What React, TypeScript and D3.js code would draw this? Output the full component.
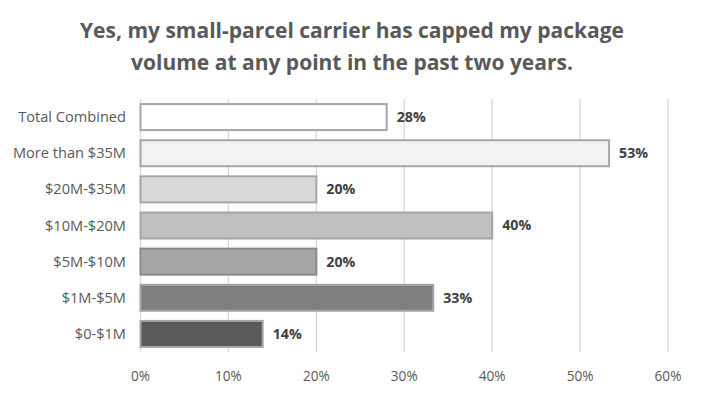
import React from 'react'
import * as d3 from 'd3'

// data
const categories = ['Total Combined', 'More than $35M', '$20M-$35M', '$10M-$20M', '$5M-$10M', '$1M-$5M', '$0-$1M']
const values = [28, 53.3, 20, 40, 20, 33.3, 13.9]
const valueLabels = ['28%', '53%', '20%', '40%', '20%', '33%', '14%']
const xTicks = [0, 10, 20, 30, 40, 50, 60]
const titleLines = ['Yes, my small-parcel carrier has capped my package', 'volume at any point in the past two years.']

const fills = ['#ffffff', '#f2f2f2', '#d9d9d9', '#bfbfbf', '#a6a6a6', '#7f7f7f', '#595959']
const strokes = ['#a6a6a6', '#a6a6a6', '#a6a6a6', '#a6a6a6', '#8a8a8a', '#a6a6a6', '#a6a6a6']

const font = '"Open Sans", sans-serif'

function App() {
    const width = 702
    const height = 395
    const left = 140.5
    const right = 668
    const top = 99
    const bottom = 352

    const x = d3.scaleLinear().domain([0, 60]).range([left, right])
    const y = d3.scaleBand().domain(categories).range([top, bottom]).paddingInner(0.28).paddingOuter(0.14)

    return (
        <svg width={width} height={height} style={{ position: 'absolute', left: 0, top: 0, background: '#fff' }}>
            {titleLines.map((t, i) => (
                <text key={t} x={352} y={38 + i * 32} textAnchor="middle" fontFamily={font}
                    fontSize={21} fontWeight="bold" fill="#595959">{t}</text>
            ))}

            {xTicks.map((t) => (
                <g key={t}>
                    <line x1={x(t)} x2={x(t)} y1={top} y2={bottom} stroke="#d9d9d9" strokeWidth={1.3} />
                    <text x={x(t)} y={381} textAnchor="middle" fontFamily={font} fontSize={13.6} fill="#595959">{t}%</text>
                </g>
            ))}

            {categories.map((c, i) => {
                const yy = y(c) ?? 0
                const cy = yy + y.bandwidth() / 2
                return (
                    <g key={c}>
                        <text x={126} y={cy} dy="0.35em" textAnchor="end" fontFamily={font} fontSize={14.6} fill="#595959">{c}</text>
                        <rect x={x(0)} y={yy} width={x(values[i]) - x(0)} height={y.bandwidth()}
                            fill={fills[i]} stroke={strokes[i]} strokeWidth={2} />
                        <text x={x(values[i]) + 10} y={cy} dy="0.35em" fontFamily={font} fontSize={14.2}
                            fontWeight="bold" fill="#404040">{valueLabels[i]}</text>
                    </g>
                )
            })}
        </svg>
    )
}

export default App
